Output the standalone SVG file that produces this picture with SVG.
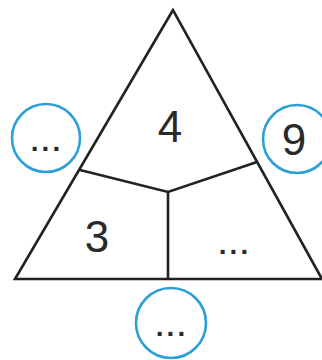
<svg xmlns="http://www.w3.org/2000/svg" width="322" height="360" viewBox="0 0 322 360">
<style>
.edge{fill:none;stroke:#222;stroke-width:2.6;stroke-linejoin:miter;stroke-linecap:round}
.ring{fill:#fff;stroke:#2d9fd8;stroke-width:2.6}
.num{font-family:"Liberation Sans",Arial,sans-serif;font-size:44px;fill:#2a2a2a;text-anchor:middle}
.dots{font-family:"Liberation Sans",Arial,sans-serif;font-size:28px;font-weight:bold;letter-spacing:3px;fill:#2a2a2a;text-anchor:middle}
</style>
<rect width="322" height="360" fill="#fff"/>
<g id="connectors">
<polygon class="edge" points="173,10 15,279 322,279"/>
<polyline class="edge" points="80,170 168,192 257,162"/>
<line class="edge" x1="168" y1="192" x2="168" y2="279"/>
</g>
<g id="top"><text class="num" x="170" y="142">4</text></g>
<g id="left-bottom"><text class="num" x="97" y="252">3</text></g>
<g id="right-bottom"><text class="dots" x="235" y="254">...</text></g>
<g id="circle-left"><circle class="ring" cx="46" cy="138" r="34"/><text class="dots" x="47" y="151">...</text></g>
<g id="circle-right"><circle class="ring" cx="297" cy="139" r="34"/><text class="num" x="294" y="155">9</text></g>
<g id="circle-bottom"><circle class="ring" cx="171" cy="323" r="35"/><text class="dots" x="172" y="336">...</text></g>
</svg>
